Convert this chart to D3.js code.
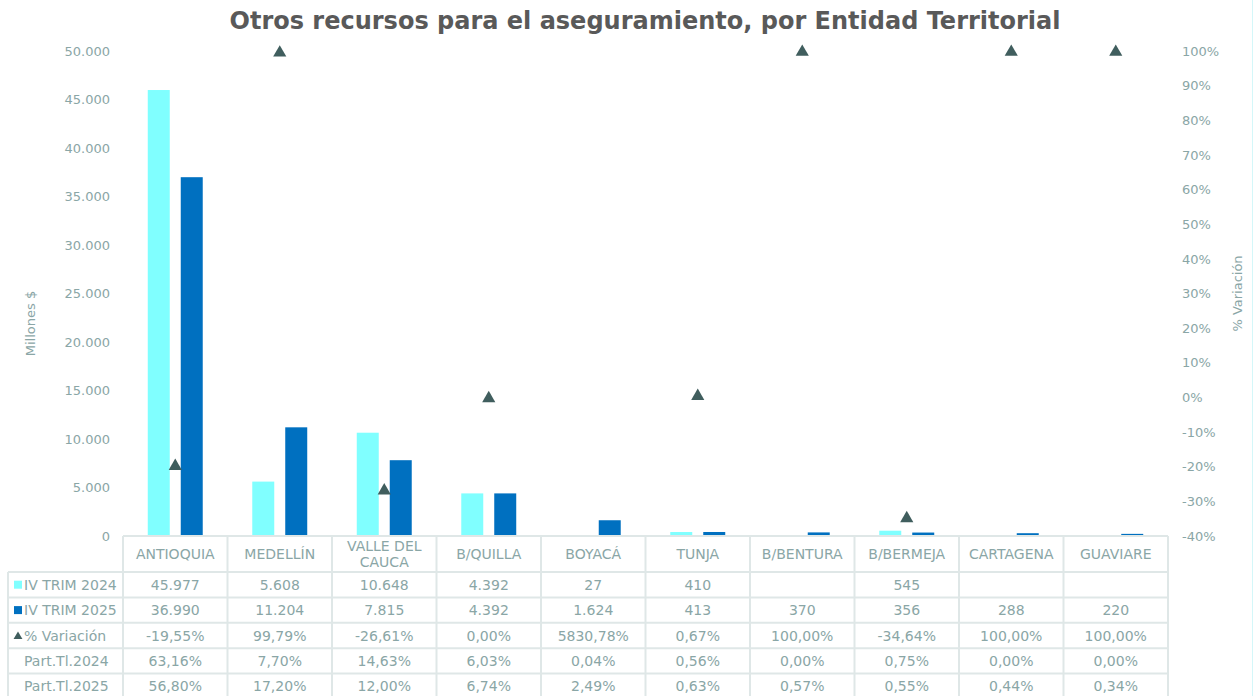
<!DOCTYPE html>
<html>
<head>
<meta charset="utf-8">
<script src="https://cdn.jsdelivr.net/npm/d3@7"></script>
<style>
  body { margin: 0; background: #fff; }
  text { font-family: "DejaVu Sans", Verdana, sans-serif; }
</style>
</head>
<body>
<svg id="chart" width="1259" height="696"></svg>
<script>
// data
var categories = ["ANTIOQUIA", "MEDELLÍN", "VALLE DEL CAUCA", "B/QUILLA", "BOYACÁ",
                  "TUNJA", "B/BENTURA", "B/BERMEJA", "CARTAGENA", "GUAVIARE"];
var trim2024 = [45977, 5608, 10648, 4392, 27, 410, null, 545, null, null];
var trim2025 = [36990, 11204, 7815, 4392, 1624, 413, 370, 356, 288, 220];
var variacion = [-19.55, 99.79, -26.61, 0.00, 5830.78, 0.67, 100.00, -34.64, 100.00, 100.00];
var part2024 = [63.16, 7.70, 14.63, 6.03, 0.04, 0.56, 0.00, 0.75, 0.00, 0.00];
var part2025 = [56.80, 17.20, 12.00, 6.74, 2.49, 0.63, 0.57, 0.55, 0.44, 0.34];
var leftTicks = [0, 5000, 10000, 15000, 20000, 25000, 30000, 35000, 40000, 45000, 50000];
var rightTicks = [-40, -30, -20, -10, 0, 10, 20, 30, 40, 50, 60, 70, 80, 90, 100];

var col = {
  light: "#80ffff",
  dark: "#0070c0",
  marker: "#405e5e",
  text: "#8aa6a6",
  title: "#595959",
  grid: "#dfe7e7"
};

var loc = d3.formatLocale({decimal: ",", thousands: ".", grouping: [3], currency: ["$", ""], minus: "-"});
var fmtNum = loc.format(",d");
var fmtPct = function(v) { return loc.format(".2f")(v) + "%"; };

var svg = d3.select("#chart");
var plot = {left: 123, right: 1168, top: 51, bottom: 536};

var x = d3.scaleBand().domain(categories).range([plot.left, plot.right]).padding(0);
var bw = x.bandwidth();
var xs = d3.scaleBand().domain(["2024", "2025"])
  .range([bw * 0.237, bw * 0.763]).paddingInner(1 / 3).paddingOuter(0);
var y = d3.scaleLinear().domain([0, 50000]).range([plot.bottom, plot.top]);
var y2 = d3.scaleLinear().domain([-40, 100]).range([plot.bottom, plot.top]);

// title
svg.append("text")
  .attr("x", 645).attr("y", 29)
  .attr("text-anchor", "middle")
  .attr("font-size", 24).attr("font-weight", "bold")
  .attr("fill", col.title)
  .text("Otros recursos para el aseguramiento, por Entidad Territorial");

// frame edge on the right
svg.append("line")
  .attr("x1", 1252.5).attr("x2", 1252.5).attr("y1", 0).attr("y2", 696)
  .style("stroke", "#d4f7f9").style("stroke-width", 1);

// left axis
var gl = svg.append("g")
  .attr("transform", "translate(" + (plot.left - 13) + ",0)")
  .call(d3.axisLeft(y).tickValues(leftTicks).tickSize(0).tickPadding(0)
    .tickFormat(function(d) { return fmtNum(d); }));
gl.select(".domain").remove();
gl.selectAll("text").attr("fill", col.text).attr("font-size", 13)
  .style("font-family", "DejaVu Sans, Verdana, sans-serif");

// right axis
var gr = svg.append("g")
  .attr("transform", "translate(" + (plot.right + 14) + ",0)")
  .call(d3.axisRight(y2).tickValues(rightTicks).tickSize(0).tickPadding(0)
    .tickFormat(function(d) { return d + "%"; }));
gr.select(".domain").remove();
gr.selectAll("text").attr("fill", col.text).attr("font-size", 13)
  .style("font-family", "DejaVu Sans, Verdana, sans-serif");

// axis titles
svg.append("text")
  .attr("transform", "translate(35," + ((plot.top + plot.bottom) / 2 + 30) + ") rotate(-90)")
  .attr("text-anchor", "middle").attr("font-size", 13).attr("fill", col.text)
  .text("Millones $");
svg.append("text")
  .attr("transform", "translate(1242," + ((plot.top + plot.bottom) / 2) + ") rotate(-90)")
  .attr("text-anchor", "middle").attr("font-size", 13).attr("fill", col.text)
  .text("% Variación");

// bars
var barData = [];
categories.forEach(function(c, i) {
  if (trim2024[i] != null) barData.push({cat: c, s: "2024", v: trim2024[i]});
  if (trim2025[i] != null) barData.push({cat: c, s: "2025", v: trim2025[i]});
});
svg.append("g").selectAll("rect")
  .data(barData)
  .join("rect")
  .attr("x", function(d) { return x(d.cat) + xs(d.s); })
  .attr("width", xs.bandwidth())
  .attr("y", function(d) { return y(d.v); })
  .attr("height", function(d) { return y(0) - y(d.v); })
  .attr("fill", function(d) { return d.s === "2024" ? col.light : col.dark; });

// % variacion markers (values beyond the axis are not drawn)
var tri = d3.symbol().type(d3.symbolTriangle).size(75);
svg.append("g").selectAll("path")
  .data(categories.map(function(c, i) { return {cat: c, v: variacion[i]}; })
    .filter(function(d) { return d.v >= -40 && d.v <= 100; }))
  .join("path")
  .attr("d", tri)
  .attr("transform", function(d) {
    return "translate(" + (x(d.cat) + bw / 2) + "," + (y2(d.v) + 1) + ")";
  })
  .attr("fill", col.marker);

// data table
var rowTop = plot.bottom;
var headH = 36, rowH = 25.4;
var labelLeft = 8;
var tfs = 14;
var rows = [
  {label: "IV TRIM 2024", key: "sq", color: col.light, vals: trim2024.map(function(v) { return v == null ? "" : fmtNum(v); })},
  {label: "IV TRIM 2025", key: "sq", color: col.dark, vals: trim2025.map(function(v) { return fmtNum(v); })},
  {label: "% Variación", key: "tri", color: col.marker, vals: variacion.map(fmtPct)},
  {label: "Part.Tl.2024", key: null, vals: part2024.map(fmtPct)},
  {label: "Part.Tl.2025", key: null, vals: part2025.map(fmtPct)}
];

var tbl = svg.append("g");
// horizontal lines
tbl.append("line")
  .attr("x1", plot.left).attr("x2", plot.right)
  .attr("y1", rowTop).attr("y2", rowTop)
  .style("stroke", col.grid).style("stroke-width", 2);
for (var r = 0; r <= rows.length; r++) {
  var yy = rowTop + headH + r * rowH;
  tbl.append("line")
    .attr("x1", labelLeft).attr("x2", plot.right)
    .attr("y1", yy).attr("y2", yy)
    .style("stroke", col.grid).style("stroke-width", 2);
}
// vertical lines
var tableBottom = rowTop + headH + rows.length * rowH;
tbl.append("line")
  .attr("x1", labelLeft).attr("x2", labelLeft)
  .attr("y1", rowTop + headH).attr("y2", tableBottom)
  .style("stroke", col.grid).style("stroke-width", 2);
categories.concat(["end"]).forEach(function(c, i) {
  var xx = plot.left + i * bw;
  tbl.append("line")
    .attr("x1", xx).attr("x2", xx)
    .attr("y1", rowTop).attr("y2", tableBottom)
    .style("stroke", col.grid).style("stroke-width", 2);
});

// header labels (wrap long names)
categories.forEach(function(c) {
  var lines = c === "VALLE DEL CAUCA" ? ["VALLE DEL", "CAUCA"] : [c];
  var t = tbl.append("text")
    .attr("x", x(c) + bw / 2)
    .attr("text-anchor", "middle").attr("font-size", tfs).attr("fill", col.text);
  var cy = rowTop + headH / 2 + 5 - (lines.length - 1) * 8;
  lines.forEach(function(l, k) {
    t.append("tspan").attr("x", x(c) + bw / 2).attr("y", cy + k * 16).text(l);
  });
});

// row labels and values
rows.forEach(function(row, r) {
  var cy = rowTop + headH + r * rowH + rowH / 2;
  if (row.key === "sq") {
    tbl.append("rect").attr("x", 14).attr("y", cy - 4).attr("width", 8).attr("height", 8)
      .attr("fill", row.color);
  } else if (row.key === "tri") {
    tbl.append("path").attr("d", d3.symbol().type(d3.symbolTriangle).size(34))
      .attr("transform", "translate(18," + (cy + 1) + ")").attr("fill", row.color);
  }
  tbl.append("text")
    .attr("x", 24).attr("y", cy + 5)
    .attr("font-size", tfs).attr("fill", col.text)
    .text(row.label);
  row.vals.forEach(function(v, i) {
    tbl.append("text")
      .attr("x", x(categories[i]) + bw / 2).attr("y", cy + 5)
      .attr("text-anchor", "middle").attr("font-size", tfs).attr("fill", col.text)
      .text(v);
  });
});
</script>
</body>
</html>
